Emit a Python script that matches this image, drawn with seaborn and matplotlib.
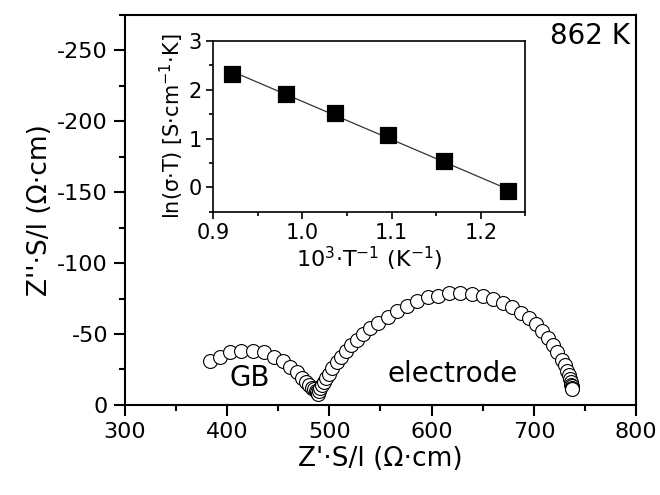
import numpy as np
import pandas as pd
import matplotlib
matplotlib.use('Agg')
import matplotlib.pyplot as plt
import seaborn as sns
from matplotlib.ticker import MultipleLocator, FormatStrFormatter

# impedance spectrum at 862 K (Z' and Z'' normalised by S/l)
z_re = [383, 393, 403, 414, 425, 436, 446, 455, 462, 468, 473, 477, 480, 483,
        485, 487, 488, 489, 490, 491, 493, 495, 497, 500, 503, 507, 511, 516,
        521, 527, 533, 540, 548, 557, 566, 576, 586, 596, 606, 617, 628, 639,
        650, 660, 670, 679, 687, 695, 702, 708, 714, 719, 723, 727, 730, 732,
        734, 735, 736, 736, 737, 737, 737]
z_im = [-31, -34, -37, -38, -38, -37, -34, -31, -27, -23, -19, -16, -14, -12,
        -11, -10, -9, -8, -10, -12, -14, -16, -19, -22, -26, -30, -34, -38,
        -42, -46, -50, -54, -58, -62, -66, -70, -73, -76, -77, -79, -79, -78,
        -77, -75, -72, -69, -65, -61, -57, -52, -47, -42, -37, -32, -28, -24,
        -21, -18, -16, -14, -13, -12, -11]

# Arrhenius inset
inv_t = [0.921, 0.982, 1.037, 1.096, 1.159, 1.231]
ln_st = [2.33, 1.92, 1.53, 1.08, 0.55, -0.07]
fit_x = [0.921, 1.231]
fit_y = [2.38, -0.04]

sns.set_style('ticks')
plt.rcParams['font.family'] = ['DejaVu Sans']
plt.rcParams['axes.unicode_minus'] = False
plt.rcParams['mathtext.default'] = 'regular'
plt.rcParams['text.color'] = 'black'
plt.rcParams['axes.labelcolor'] = 'black'
plt.rcParams['xtick.color'] = 'black'
plt.rcParams['ytick.color'] = 'black'
plt.rcParams['axes.edgecolor'] = 'black'

fig = plt.figure(figsize=(6.6, 4.95), dpi=100)
ax = fig.add_axes([0.189, 0.182, 0.775, 0.788])

nyq = pd.DataFrame({'zre': z_re, 'zim': z_im})
sns.scatterplot(data=nyq, x='zre', y='zim', ax=ax, marker='o', s=100,
                facecolor='white', edgecolor='black', linewidth=0.8, zorder=3)

ax.set_xlim(300, 800)
ax.set_ylim(0, -275)
ax.xaxis.set_major_locator(MultipleLocator(100))
ax.xaxis.set_minor_locator(MultipleLocator(50))
ax.yaxis.set_major_locator(MultipleLocator(50))
ax.yaxis.set_minor_locator(MultipleLocator(25))
ax.tick_params(which='major', direction='out', length=8, width=1.5, labelsize=16, pad=4)
ax.tick_params(which='minor', direction='out', length=4.5, width=1.5)
for sp in ax.spines.values():
    sp.set_linewidth(1.5)
ax.set_xlabel("Z'·S/l (Ω·cm)", fontsize=19, labelpad=3)
ax.set_ylabel("Z''·S/l (Ω·cm)", fontsize=19, labelpad=3)

ax.text(422, -19, 'GB', fontsize=20, ha='center', va='center')
ax.text(621, -22, 'electrode', fontsize=20, ha='center', va='center')
ax.text(794, -260, '862 K', fontsize=20, ha='right', va='center')

# inset
ins = fig.add_axes([0.323, 0.572, 0.473, 0.345])
arr = pd.DataFrame({'x': inv_t, 'y': ln_st})
fit = pd.DataFrame({'x': fit_x, 'y': fit_y})
sns.lineplot(data=fit, x='x', y='y', ax=ins, color='#333333', linewidth=0.9)
sns.scatterplot(data=arr, x='x', y='y', ax=ins, marker='s', s=120,
                color='black', edgecolor='black', zorder=3)
ins.set_xlim(0.9, 1.25)
ins.set_ylim(-0.5, 3)
ins.xaxis.set_major_locator(MultipleLocator(0.1))
ins.xaxis.set_minor_locator(MultipleLocator(0.05))
ins.yaxis.set_major_locator(MultipleLocator(1))
ins.yaxis.set_minor_locator(MultipleLocator(0.5))
ins.xaxis.set_major_formatter(FormatStrFormatter('%.1f'))
ins.tick_params(which='major', direction='out', length=5, width=1.2, labelsize=15, pad=3)
ins.tick_params(which='minor', direction='out', length=3, width=1.2)
for sp in ins.spines.values():
    sp.set_linewidth(1.2)
ins.set_xlabel('10$^3$·T$^{-1}$ (K$^{-1}$)', fontsize=16, labelpad=1)
ins.set_ylabel('ln(σ·T) [S·cm$^{-1}$·K]', fontsize=15, labelpad=2)

fig.savefig('out.png', dpi=100)
